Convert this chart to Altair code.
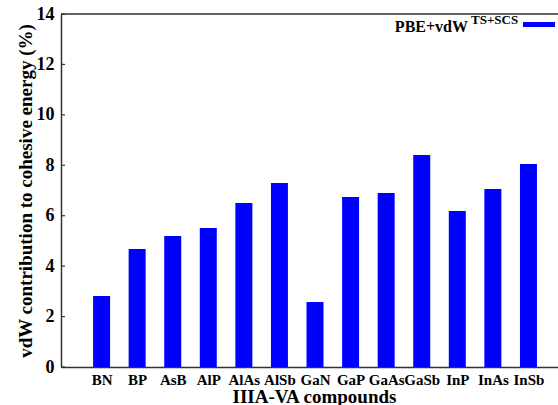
import altair as alt
import pandas as pd

compounds = ["BN", "BP", "AsB", "AlP", "AlAs", "AlSb", "GaN", "GaP", "GaAs", "GaSb", "InP", "InAs", "InSb"]
vdw_pct = [2.82, 4.68, 5.20, 5.51, 6.50, 7.30, 2.58, 6.74, 6.90, 8.41, 6.19, 7.06, 8.05]
y_ticks = [0, 2, 4, 6, 8, 10, 12, 14]
legend_main = "PBE+vdW"
legend_sup = "TS+SCS"

df = pd.DataFrame({"pos": list(range(1, len(compounds) + 1)), "compound": compounds, "value": vdw_pct})
tick_df = pd.DataFrame({"value": y_ticks})
leg_df = pd.DataFrame({"main": [legend_main], "sup": [legend_sup]})

W, H = 497, 353
FONT = "Liberation Serif"
AX = "#333333"
BLUE = "#0000ff"
label_expr = "[" + ",".join(f"'{c}'" for c in compounds) + "][datum.value - 1]"

xscale = alt.Scale(domain=[0, 13.69], nice=False, zero=False)
yscale = alt.Scale(domain=[0, 14], nice=False)

yaxis = alt.Axis(
    values=y_ticks, title="vdW contribution to cohesive energy (%)",
    ticks=False, tickSize=0, grid=False,
    labelFont=FONT, labelFontSize=18, labelFontWeight="bold", labelColor="black",
    labelPadding=7, labelBaseline="middle",
    titleFont=FONT, titleFontSize=19, titleFontWeight="bold", titleColor="black",
    titleX=-30, titleY=176.5, titleAngle=-90, titleAlign="center", titleBaseline="alphabetic",
    domainColor=AX, domainWidth=1.5)

bars = alt.Chart(df).mark_bar(color=BLUE, size=17).encode(
    x=alt.X("pos:Q", scale=xscale, axis=alt.Axis(
        values=list(range(1, len(compounds) + 1)), labelExpr=label_expr,
        title="IIIA-VA compounds", ticks=False, tickSize=0, grid=False,
        labelFont=FONT, labelFontSize=15, labelFontWeight="bold", labelColor="black",
        labelBaseline="alphabetic", labelPadding=17, labelFlush=False, labelOverlap=False,
        titleFont=FONT, titleFontSize=19, titleFontWeight="bold", titleColor="black",
        titleX=253, titleY=35, titleBaseline="alphabetic", titleAlign="center",
        domainColor=AX, domainWidth=1.5)),
    y=alt.Y("value:Q", scale=yscale, axis=yaxis),
)

inner_ticks = alt.Chart(tick_df).mark_rule(color=AX, strokeWidth=1.2).encode(
    y=alt.Y("value:Q", scale=yscale, axis=yaxis),
    x=alt.value(0), x2=alt.value(4),
)

top_border = alt.Chart(leg_df).mark_rule(color=AX, strokeWidth=1.5).encode(
    y=alt.value(0), x=alt.value(0), x2=alt.value(W),
)

leg_main = alt.Chart(leg_df).mark_text(
    font=FONT, fontSize=16, fontWeight="bold", color="black", align="right", baseline="alphabetic"
).encode(text="main:N", x=alt.value(407), y=alt.value(18))

leg_sup = alt.Chart(leg_df).mark_text(
    font=FONT, fontSize=13, fontWeight="bold", color="black", align="left", baseline="alphabetic"
).encode(text="sup:N", x=alt.value(410), y=alt.value(10))

leg_line = alt.Chart(leg_df).mark_rule(color=BLUE, strokeWidth=5).encode(
    y=alt.value(10.5), x=alt.value(462), x2=alt.value(494),
)

chart = alt.layer(bars, inner_ticks, top_border, leg_main, leg_sup, leg_line).properties(
    width=W, height=H,
    padding={"left": 61, "top": 14, "right": 0, "bottom": 38},
    autosize=alt.AutoSizeParams(type="none"),
).configure_view(stroke=None).configure(background="white")

chart.save("out.html", embed_options={"renderer": "svg", "actions": False})
